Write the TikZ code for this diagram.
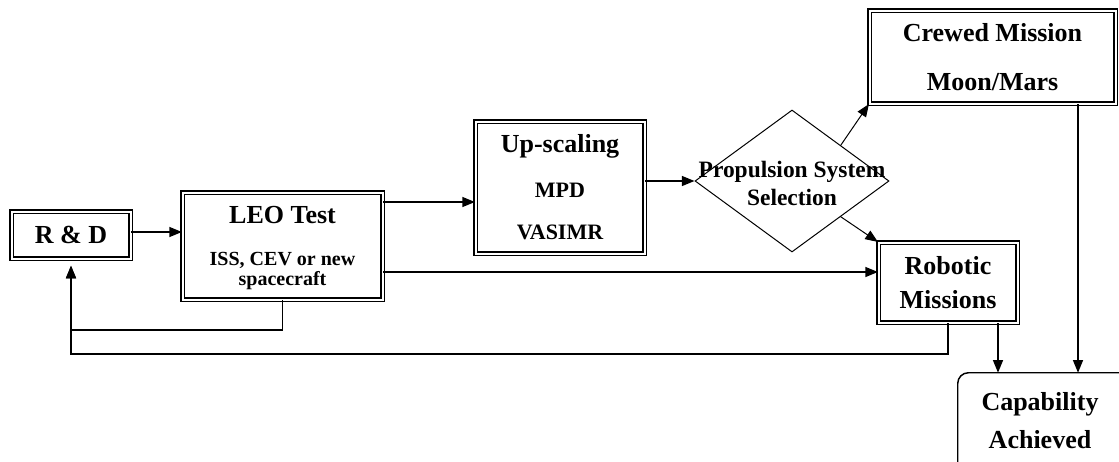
\documentclass[tikz,border=0pt]{standalone}
\usepackage{fontspec}
\setmainfont{Liberation Serif}
\usetikzlibrary{shapes.geometric,arrows.meta}
\begin{document}
\begin{tikzpicture}[x=0.75pt,y=-0.75pt,
  dbox/.style={draw=black, double=white, line width=0.85pt, double distance=1.5pt,
    inner sep=0pt, align=center},
  capline/.style={draw=black, line width=1.1pt, rounded corners=8pt},
  decision/.style={diamond, draw=black, line width=0.75pt, inner sep=0pt,
    minimum width=145.5pt, minimum height=106.5pt},
  arr/.style={draw=black, line width=1.1pt, -{Triangle[length=9.5pt,width=7.5pt]}},
  thinarr/.style={draw=black, line width=0.75pt, -{Triangle[length=9.5pt,width=7.5pt]}},
  big/.style={font=\bfseries\fontsize{19.5}{22}\selectfont}
]
\fill[white] (0,0) rectangle (1119,461);
\clip (0,0) rectangle (1119,461);

% helper coordinates for connector rows/columns
\coordinate (y232) at (0,232);
\coordinate (y202) at (0,202);
\coordinate (y272) at (0,272);
\coordinate (y330) at (0,330);
\coordinate (y354) at (0,354);
\coordinate (x998) at (998,0);
\coordinate (x1078) at (1078,0);

% boxes
\node[dbox, minimum width=89.25pt, minimum height=35.25pt, big] (RD) at (71,235) {R \& D};
\node[dbox, minimum width=150pt, minimum height=80.25pt,
      font=\bfseries\fontsize{15}{15.5}\selectfont] (LEO) at (282.5,246)
  {\rule{0pt}{16pt}{\fontsize{19.5}{15}\selectfont LEO Test}\\[16pt]ISS, CEV or new\\spacecraft};
\node[dbox, minimum width=126.75pt, minimum height=99pt,
      font=\bfseries\fontsize{16.5}{18}\selectfont] (UP) at (560,187.5)
  {{\fontsize{19.5}{18}\selectfont Up-scaling}\\[15.75pt]MPD\\[13.5pt]VASIMR};
\node[decision] (SEL) at (792,181) {};
\node[font=\bfseries\fontsize{17.6}{21}\selectfont, align=center, inner sep=0pt] (SELT) at (792,183)
  {Propulsion System\\Selection};
\node[dbox, minimum width=184.5pt, minimum height=69.75pt, font=\bfseries\fontsize{19.5}{22}\selectfont]
  (CR) at (992.5,57) {Crewed Mission\\[14.75pt]Moon/Mars};
\node[dbox, minimum width=104.25pt, minimum height=60pt, font=\bfseries\fontsize{19.5}{25.5}\selectfont]
  (ROB) at (948,282.5) {Robotic\\Missions};
\node[inner sep=0pt, minimum width=123pt, minimum height=72pt, align=center,
      font=\bfseries\fontsize{19.5}{28.5}\selectfont]
  (CAP) at (1040,421) {Capability\\Achieved};
\draw[capline] (CAP.north west) rectangle ([xshift=30pt,yshift=-30pt]CAP.south east);

% connectors
\draw[arr] (RD.east |- y232) -- (LEO.west |- y232);
\draw[arr] (LEO.east |- y202) -- (UP.west |- y202);
\draw[arr] (UP.east |- SEL.west) -- (SEL.west);
\draw[thinarr] (SEL.north east) -- (CR.south west);
\draw[thinarr] (SEL.south east) -- (ROB.north west);
\draw[arr] (LEO.east |- y272) -- (ROB.west |- y272);
\draw[arr, shorten >=5pt] (LEO.south) -- (LEO.south |- y330) -- (RD.south |- y330) -- (RD.south);
\draw[arr, shorten >=5pt] (ROB.south) -- (ROB.south |- y354) -- (RD.south |- y354) -- (RD.south);
\draw[arr] (ROB.south -| x998) -- (CAP.north -| x998);
\draw[arr] (CR.south -| x1078) -- (CAP.north -| x1078);
\end{tikzpicture}
\end{document}
